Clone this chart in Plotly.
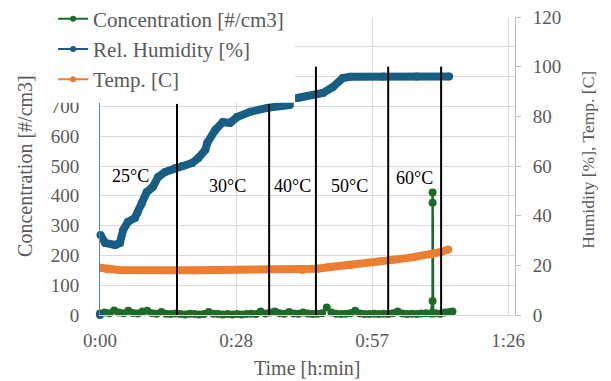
import plotly.graph_objects as go

# ---------------- data (time in minutes) ----------------
conc_t = [0, 1, 2, 3, 4, 5, 6, 7, 8, 9, 10, 11, 12, 13, 14, 15, 16, 17, 18, 19,
          20, 21, 22, 23, 24, 25, 26, 27, 28, 29, 30, 31, 32, 33, 34, 35, 36, 37, 38, 39,
          40, 41, 42, 43, 44, 45, 46, 47, 48, 49, 50, 51, 52, 53, 54, 55, 56, 57, 58, 59,
          60, 61, 62, 63, 64, 65, 66, 67, 68, 69, 70, 70.4, 70.4, 70.4, 70.5, 71, 72, 73, 74, 74.6]
conc_v = [5, 8, 6, 15, 8, 6, 14, 7, 5, 12, 14, 6, 4, 10, 4, 3, 5, 3, 2, 4,
          3, 2, 3, 10, 4, 3, 2, 3, 2, 3, 2, 3, 4, 3, 12, 5, 8, 12, 6, 4,
          10, 5, 4, 8, 5, 3, 4, 6, 25, 8, 4, 3, 4, 6, 14, 5, 3, 3, 4, 3,
          4, 3, 6, 12, 5, 3, 4, 3, 5, 6, 5, 47, 411, 377, 5, 6, 4, 8, 10, 12]

hum_t = [0, None, 0.1, 1.1, 3.2, 4.2, 4.9, 5.9, 7.4, 8.0, 8.9, 9.9, 11.2, 12.3, 13.8, 15.9,
         17.4, 19.5, 20.8, 22.3, 22.7, 24.4, 26.0, 27.5, 29.0, 31.8, 35.4, 40.2, None,
         41.7, 45.1, 47.2, 49.3, 51.4, 52.9, 60.0, 67.0, 73.9]
hum_v = [0, None, 32.2, 29.0, 28.2, 29.0, 34.2, 37.5, 39.1, 41.5, 45.1, 49.5, 51.6, 55.6, 57.6, 59.2,
         60.0, 61.2, 63.2, 66.5, 69.3, 74.5, 77.7, 77.3, 79.7, 81.8, 83.4, 84.6, None,
         87.4, 88.6, 89.4, 91.8, 95.4, 95.9, 96.0, 96.0, 96.0]

temp_t = [0, 1.5, 4, 20, 42.8, 46, 48.3, 53, 59.3, 62, 66.3, 70.1, 72, 73.7]
temp_v = [19.0, 18.4, 18.1, 18.0, 18.1, 18.6, 19.2, 20.0, 21.6, 22.2, 23.3, 24.4, 25.3, 26.4]

step_t = [16.3, 35.8, 45.7, 61.0, 72.2]
step_top = [85, 85, 100, 100, 100]

step_lbl = ["25°C", "30°C", "40°C", "50°C", "60°C"]
step_lbl_t = [6.35, 26.9, 40.7, 52.9, 66.5]
step_lbl_y = [56, 52, 52, 52, 55]

x_tickvals = [0, 28.8, 57.6, 86.4]
x_ticktext = ["0:00", "0:28", "0:57", "1:26"]
x_range = [0, 87.84]

C_GREEN = "#1E6B28"
C_BLUE = "#185E84"
C_ORANGE = "#ED7D31"
GRAY = "#595959"
FONT = "Liberation Serif"

fig = go.Figure()

# data traces
fig.add_trace(go.Scatter(x=conc_t, y=conc_v, mode="lines+markers", yaxis="y", cliponaxis=False,
                         line=dict(color=C_GREEN, width=2.5), marker=dict(color=C_GREEN, size=8),
                         showlegend=False, hoverinfo="skip"))
fig.add_trace(go.Scatter(x=hum_t, y=hum_v, mode="lines+markers", yaxis="y2", cliponaxis=False,
                         line=dict(color=C_BLUE, width=8), marker=dict(color=C_BLUE, size=8),
                         showlegend=False, hoverinfo="skip"))
fig.add_trace(go.Scatter(x=temp_t, y=temp_v, mode="lines+markers", yaxis="y2",
                         line=dict(color=C_ORANGE, width=8), marker=dict(color=C_ORANGE, size=8),
                         showlegend=False, hoverinfo="skip"))

# legend entries
for name, col, ax in [("Concentration [#/cm3]", C_GREEN, "y"),
                      ("Rel. Humidity [%]", C_BLUE, "y2"),
                      ("Temp. [C]", C_ORANGE, "y2")]:
    fig.add_trace(go.Scatter(x=[None], y=[None], mode="lines+markers", yaxis=ax, name=name,
                             line=dict(color=col, width=2), marker=dict(color=col, size=6)))

# temperature step lines
shapes = []
for t, top in zip(step_t, step_top):
    shapes.append(dict(type="line", xref="x", yref="y2", x0=t, x1=t, y0=0, y1=top,
                       line=dict(color="black", width=2), layer="above"))
# white legend backdrop (covers axis labels behind legend, as in the reference)
shapes.append(dict(type="rect", xref="paper", yref="paper", x0=-0.145, x1=0.47,
                   y0=0.712, y1=1.06, fillcolor="white", line=dict(width=0), layer="above"))
fig.update_layout(shapes=shapes)

annotations = []
for lbl, t, yv in zip(step_lbl, step_lbl_t, step_lbl_y):
    annotations.append(dict(x=t, y=yv, xref="x", yref="y2", text=lbl, showarrow=False,
                            font=dict(family=FONT, size=18, color="black")))
annotations.append(dict(x=-0.181, y=0.5, xref="paper", yref="paper", text="Concentration [#/cm3]",
                        textangle=-90, showarrow=False, xanchor="center", yanchor="middle",
                        font=dict(family=FONT, size=20, color=GRAY)))
annotations.append(dict(x=1.175, y=0.52, xref="paper", yref="paper", text="Humidity [%], Temp. [C]",
                        textangle=-90, showarrow=False, xanchor="center", yanchor="middle",
                        font=dict(family=FONT, size=17.5, color=GRAY)))
annotations.append(dict(x=0.5, y=-0.178, xref="paper", yref="paper", text="Time [h:min]",
                        showarrow=False, xanchor="center", yanchor="middle",
                        font=dict(family=FONT, size=20, color=GRAY)))

fig.update_layout(
    width=611, height=381,
    margin=dict(l=100, r=96, t=17, b=66, autoexpand=False),
    paper_bgcolor="white", plot_bgcolor="white",
    font=dict(family=FONT, color=GRAY),
    annotations=annotations,
    xaxis=dict(range=x_range, tickvals=x_tickvals, ticktext=x_ticktext,
               showgrid=True, gridcolor="#D9D9D9", gridwidth=1, zeroline=False,
               showline=True, linecolor="#D9D9D9", ticks="", ticklabelstandoff=8,
               tickfont=dict(family=FONT, size=19, color=GRAY)),
    yaxis=dict(range=[0, 1000], dtick=100, showgrid=True, gridcolor="#D9D9D9", gridwidth=1,
               zeroline=False, showline=True, linecolor="#4F8DB5", linewidth=1,
               ticks="", ticklabelstandoff=16,
               tickfont=dict(family=FONT, size=19, color=GRAY)),
    yaxis2=dict(range=[0, 120], dtick=20, overlaying="y", side="right", showgrid=False,
                zeroline=False, showline=True, linecolor="#BFBFBF", linewidth=1,
                ticks="outside", ticklen=5, tickcolor="#BFBFBF", ticklabelstandoff=8,
                tickfont=dict(family=FONT, size=19, color=GRAY)),
    legend=dict(x=-0.113, y=1.062, xanchor="left", yanchor="top", bgcolor="rgba(0,0,0,0)",
                font=dict(family=FONT, size=21, color=GRAY), itemwidth=30,
                traceorder="normal"),
    showlegend=True,
)

fig.write_html("out.html", config={"displayModeBar": False},
               post_script="document.body.style.margin='0';")
